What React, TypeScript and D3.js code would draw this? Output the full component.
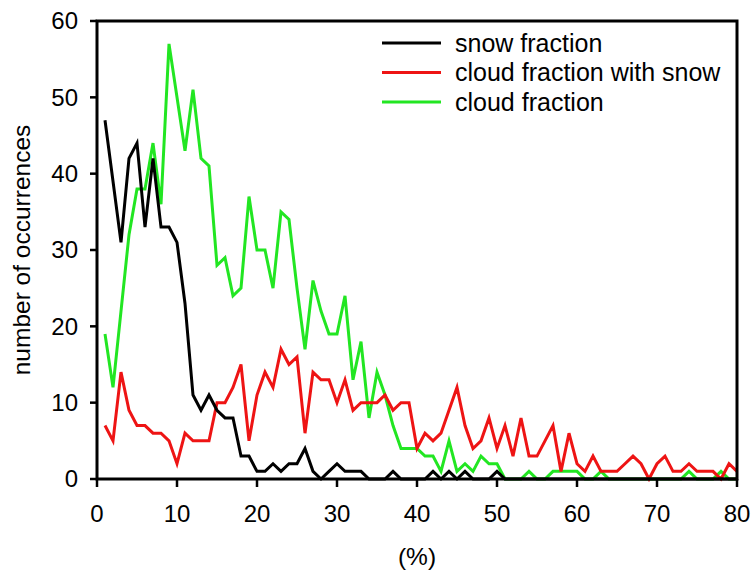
import React from "react";
import * as d3 from "d3";

// Fraction bins (%) 1..80
const percentBins: number[] = d3.range(1, 81);

// Number of occurrences per bin
const snowFraction: number[] = [
  47, 39, 31, 42, 44, 33, 42, 33, 33, 31,
  23, 11, 9, 11, 9, 8, 8, 3, 3, 1,
  1, 2, 1, 2, 2, 4, 1, 0, 1, 2,
  1, 1, 1, 0, 0, 0, 1, 0, 0, 0,
  0, 1, 0, 1, 0, 1, 0, 0, 0, 1,
  0, 0, 0, 0, 0, 0, 0, 0, 0, 0,
  0, 0, 0, 0, 0, 0, 0, 0, 0, 0,
  0, 0, 0, 0, 0, 0, 0, 0, 0, 0,
];

const cloudFractionWithSnow: number[] = [
  7, 5, 14, 9, 7, 7, 6, 6, 5, 2,
  6, 5, 5, 5, 10, 10, 12, 15, 5, 11,
  14, 12, 17, 15, 16, 6, 14, 13, 13, 10,
  13, 9, 10, 10, 10, 11, 9, 10, 10, 4,
  6, 5, 6, 9, 12, 7, 4, 5, 8, 4,
  7, 3, 8, 3, 3, 5, 7, 1, 6, 2,
  1, 3, 1, 1, 1, 2, 3, 2, 0, 2,
  3, 1, 1, 2, 1, 1, 1, 0, 2, 1,
];

const cloudFraction: number[] = [
  19, 12, 22, 32, 38, 38, 44, 36, 57, 50,
  43, 51, 42, 41, 28, 29, 24, 25, 37, 30,
  30, 25, 35, 34, 25, 17, 26, 22, 19, 19,
  24, 13, 18, 8, 14, 11, 7, 4, 4, 4,
  3, 3, 1, 5, 1, 2, 1, 3, 2, 2,
  0, 0, 0, 1, 0, 0, 1, 1, 1, 1,
  0, 0, 1, 0, 0, 0, 0, 0, 0, 0,
  0, 0, 0, 1, 0, 0, 0, 1, 0, 0,
];

const xTicks: number[] = [0, 10, 20, 30, 40, 50, 60, 70, 80];
const yTicks: number[] = [0, 10, 20, 30, 40, 50, 60];

const seriesNames: string[] = ["snow fraction", "cloud fraction with snow", "cloud fraction"];
const seriesColors: string[] = ["#000000", "#ee1414", "#22e622"];

const W = 753;
const H = 574;
const left = 97;
const right = 737;
const top = 21;
const bottom = 479;
const FONT = "'Liberation Sans', Arial, sans-serif";

export default function App() {
  const x = d3.scaleLinear().domain([0, 80]).range([left, right]);
  const y = d3.scaleLinear().domain([0, 60]).range([bottom, top]);

  const allSeries = [snowFraction, cloudFractionWithSnow, cloudFraction];
  const line = d3
    .line<[number, number]>()
    .x((d) => x(d[0]))
    .y((d) => y(d[1]));

  return (
    <svg
      width={W}
      height={H}
      style={{ position: "absolute", left: 0, top: 0, background: "#fff" }}
      fontFamily={FONT}
    >
      {/* series, drawn in reverse so black stays on top */}
      {[2, 1, 0].map((i) => (
        <path
          key={seriesNames[i]}
          d={line(percentBins.map((b, j) => [b, allSeries[i][j]] as [number, number])) || ""}
          fill="none"
          stroke={seriesColors[i]}
          strokeWidth={3}
          strokeLinejoin="miter"
        />
      ))}

      {/* frame */}
      <rect
        x={left}
        y={top}
        width={right - left}
        height={bottom - top}
        fill="none"
        stroke="#000"
        strokeWidth={3}
      />

      {/* x axis ticks and labels */}
      {xTicks.map((t) => (
        <g key={"x" + t}>
          <line x1={x(t)} x2={x(t)} y1={bottom} y2={bottom + 8} stroke="#000" strokeWidth={2.5} />
          <text x={x(t)} y={522} textAnchor="middle" fontSize={24} fill="#000">
            {t}
          </text>
        </g>
      ))}

      {/* y axis ticks and labels */}
      {yTicks.map((t) => (
        <g key={"y" + t}>
          <line x1={left - 7} x2={left} y1={y(t)} y2={y(t)} stroke="#000" strokeWidth={2.5} />
          <text
            x={78}
            y={y(t)}
            dy="0.35em"
            textAnchor="end"
            fontSize={24}
            fill="#000"
          >
            {t}
          </text>
        </g>
      ))}

      {/* axis titles */}
      <text x={(left + right) / 2} y={565} textAnchor="middle" fontSize={24.5} fill="#000">
        (%)
      </text>
      <text
        transform={`translate(30, ${(top + bottom) / 2}) rotate(-90)`}
        textAnchor="middle"
        fontSize={24.5}
        fill="#000"
      >
        number of occurrences
      </text>

      {/* legend */}
      {seriesNames.map((name, i) => {
        const ly = 43 + i * 29.5;
        return (
          <g key={"leg" + name}>
            <line x1={382} x2={441} y1={ly} y2={ly} stroke={seriesColors[i]} strokeWidth={3} />
            <text x={455} y={ly} dy="0.35em" fontSize={25} fill="#000">
              {name}
            </text>
          </g>
        );
      })}
    </svg>
  );
}
